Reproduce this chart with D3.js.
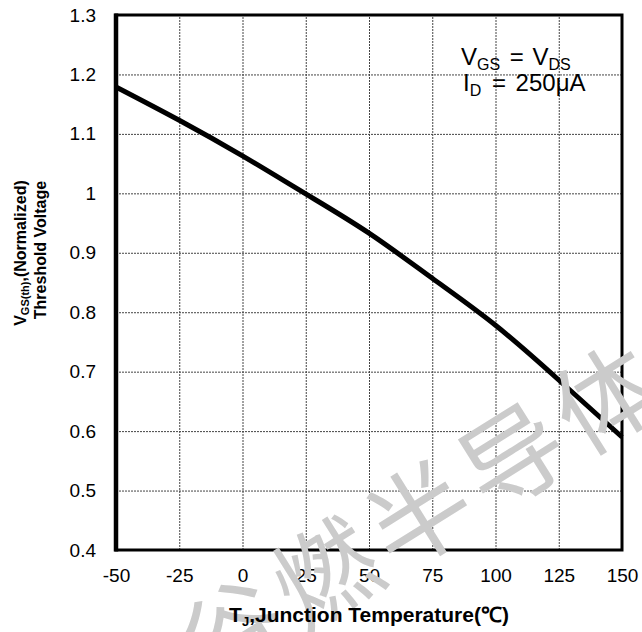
<!DOCTYPE html>
<html>
<head>
<meta charset="utf-8">
<script src="https://cdn.jsdelivr.net/npm/d3@7"></script>
<style>
  body { margin: 0; background: #fff; }
  svg { display: block; font-family: "Liberation Sans", Arial, sans-serif; }
</style>
</head>
<body>
<svg width="642" height="632"></svg>
<script>
// data
const tempC = [-50, -25, 0, 25, 50, 75, 100, 125, 150];
const vthNorm = [1.179, 1.123, 1.063, 0.999, 0.933, 0.857, 0.778, 0.686, 0.59];

// tick values
const xTicks = [-50, -25, 0, 25, 50, 75, 100, 125, 150];
const yTicks = [0.4, 0.5, 0.6, 0.7, 0.8, 0.9, 1.0, 1.1, 1.2, 1.3];

const svg = d3.select("svg");
const plotL = 116, plotT = 15, plotR = 622, plotB = 550;
const width = plotR - plotL, height = plotB - plotT;

const x = d3.scaleLinear().domain([-50, 150]).range([0, width]);
const y = d3.scaleLinear().domain([0.4, 1.3]).range([height, 0]);

const g = svg.append("g").attr("transform", "translate(" + plotL + "," + plotT + ")");

// grid
const gx = g.append("g")
  .attr("transform", "translate(0," + height + ")")
  .call(d3.axisBottom(x).tickValues(xTicks).tickSize(-height).tickFormat(""));
const gy = g.append("g")
  .call(d3.axisLeft(y).tickValues(yTicks).tickSize(-width).tickFormat(""));
[gx, gy].forEach(a => {
  a.select(".domain").remove();
  a.selectAll("line")
    .attr("stroke", "#444")
    .attr("stroke-width", 1)
    .attr("stroke-dasharray", "2,1");
});

// watermark
svg.append("text")
  .attr("transform", "translate(418,515) rotate(-32)")
  .attr("x", -270)
  .attr("dy", "0.38em")
  .style("font-family", "'Noto Sans CJK SC'")
  .style("font-size", "102px")
  .style("letter-spacing", "8px")
  .attr("fill", "#cbcbcb")
  .text("谷燃半导体(");

// curve
const line = d3.line()
  .x((d, i) => x(tempC[i]))
  .y(d => y(d))
  .curve(d3.curveNatural);

g.append("path")
  .datum(vthNorm)
  .attr("fill", "none")
  .attr("stroke", "#000")
  .attr("stroke-width", 5)
  .attr("d", line);

// frame
g.append("rect")
  .attr("width", width).attr("height", height)
  .attr("fill", "none").attr("stroke", "#000").attr("stroke-width", 3);
g.append("line")
  .attr("x1", 0).attr("x2", 0).attr("y1", -1.5).attr("y2", height + 1.5)
  .attr("stroke", "#000").attr("stroke-width", 4.5);

// tick labels
const ax = g.append("g")
  .attr("transform", "translate(0," + height + ")")
  .call(d3.axisBottom(x).tickValues(xTicks).tickSize(0).tickPadding(19)
    .tickFormat(d => String(d)));
const ay = g.append("g")
  .call(d3.axisLeft(y).tickValues(yTicks).tickSize(0).tickPadding(20)
    .tickFormat(d => d === 1 ? "1" : d3.format(".1f")(d)));
[ax, ay].forEach(a => {
  a.select(".domain").remove();
  a.selectAll("text")
    .attr("fill", "#000")
    .style("font-family", "'Liberation Sans', Arial, sans-serif")
    .style("font-size", "19px");
});

// x axis title
const xt = svg.append("text")
  .attr("x", (plotL + plotR) / 2)
  .attr("y", 622)
  .attr("text-anchor", "middle")
  .style("font-weight", "bold")
  .style("font-size", "21px");
xt.append("tspan").text("T");
xt.append("tspan").attr("dy", 4).style("font-size", "13px").text("J");
xt.append("tspan").attr("dy", -4).text(",Junction Temperature(℃)");

// y axis title
const yt1 = svg.append("text")
  .attr("transform", "translate(26,253) rotate(-90)")
  .attr("text-anchor", "middle")
  .style("font-weight", "bold")
  .style("font-size", "16px");
yt1.append("tspan").text("V");
yt1.append("tspan").attr("dy", 3).style("font-size", "11px").text("GS(th)");
yt1.append("tspan").attr("dy", -3).text(",(Normalized)");

svg.append("text")
  .attr("transform", "translate(46,250) rotate(-90)")
  .attr("text-anchor", "middle")
  .style("font-weight", "bold")
  .style("font-size", "16px")
  .text("Threshold Voltage");

// conditions
const c1 = svg.append("text")
  .attr("x", 461).attr("y", 65)
  .style("font-size", "24px");
c1.append("tspan").text("V");
c1.append("tspan").attr("dy", 5).style("font-size", "16px").text("GS");
c1.append("tspan").attr("dy", -5).attr("dx", 3).text(" = ");
c1.append("tspan").attr("dx", 2).text("V");
c1.append("tspan").attr("dy", 5).style("font-size", "16px").text("DS");

const c2 = svg.append("text")
  .attr("x", 463).attr("y", 91)
  .style("font-size", "24px");
c2.append("tspan").text("I");
c2.append("tspan").attr("dy", 5).style("font-size", "16px").text("D");
c2.append("tspan").attr("dy", -5).attr("dx", 4).text(" = ");
c2.append("tspan").attr("dx", 3).text("250μA");
</script>
</body>
</html>
